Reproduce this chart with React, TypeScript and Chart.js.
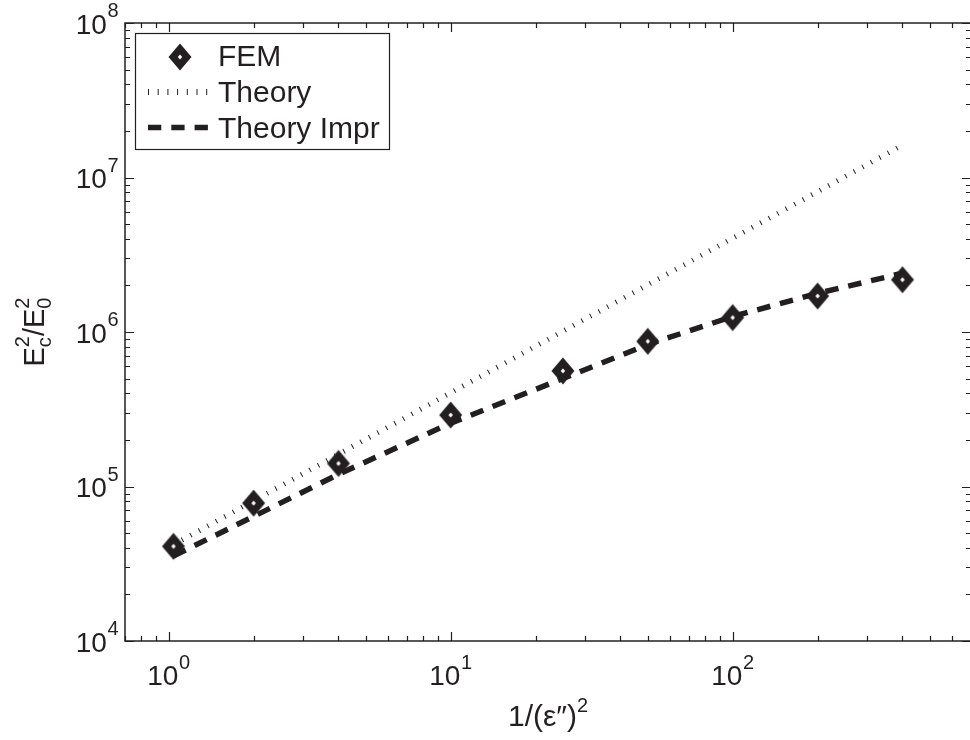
import React, { useEffect, useRef } from "react";
import { Chart, registerables } from "chart.js";

Chart.register(...registerables);

// ---- data ----
const xValues = [1.04, 2, 4, 10, 25, 50, 100, 200, 400];
const femValues = [4.1e4, 7.8e4, 1.41e5, 2.9e5, 5.6e5, 8.7e5, 1.24e6, 1.71e6, 2.18e6];
const theoryX = [1.04, 400];
const theoryValues = [4.2e4, 1.62e7];
const imprValues = [3.55e4, 6.4e4, 1.2e5, 2.57e5, 5.0e5, 8.3e5, 1.26e6, 1.78e6, 2.4e6];

const xMajorTicks = [1, 10, 100];
const xTickExponents = ["0", "1", "2"];
const yMajorTicks = [1e4, 1e5, 1e6, 1e7, 1e8];
const yTickExponents = ["4", "5", "6", "7", "8"];
const legendLabels = ["FEM", "Theory", "Theory Impr"];

const X_MIN = 0.7;
const X_MAX = 700;
const Y_MIN = 1e4;
const Y_MAX = 1e8;

const INK = "#231f20";
const FONT = "'Liberation Sans', Arial, Helvetica, sans-serif";

function makeDiamond(): HTMLCanvasElement {
  const c = document.createElement("canvas");
  c.width = 26;
  c.height = 30;
  const g = c.getContext("2d")!;
  g.fillStyle = INK;
  g.beginPath();
  g.moveTo(13, 1.5);
  g.lineTo(24.5, 15);
  g.lineTo(13, 28.5);
  g.lineTo(1.5, 15);
  g.closePath();
  g.fill();
  g.fillStyle = "#ffffff";
  g.beginPath();
  g.moveTo(13, 12.5);
  g.lineTo(15.2, 15);
  g.lineTo(13, 17.5);
  g.lineTo(10.8, 15);
  g.closePath();
  g.fill();
  return c;
}

function minorTicks(min: number, max: number): number[] {
  const out: number[] = [];
  for (let e = Math.floor(Math.log10(min)); e <= Math.ceil(Math.log10(max)); e++) {
    for (let m = 2; m <= 9; m++) {
      const v = m * Math.pow(10, e);
      if (v >= min * 0.999 && v <= max * 1.001) out.push(v);
    }
  }
  return out;
}

function drawPow(
  ctx: CanvasRenderingContext2D,
  x: number,
  baseline: number,
  exp: string,
  align: "center" | "right"
) {
  ctx.font = `28px ${FONT}`;
  const w1 = ctx.measureText("10").width;
  ctx.font = `20px ${FONT}`;
  const w2 = ctx.measureText(exp).width;
  const total = w1 + w2 + 0.5;
  const x0 = align === "center" ? x - total / 2 : x - total;
  ctx.textAlign = "left";
  ctx.textBaseline = "alphabetic";
  ctx.font = `28px ${FONT}`;
  ctx.fillText("10", x0, baseline);
  ctx.font = `20px ${FONT}`;
  ctx.fillText(exp, x0 + w1 + 0.5, baseline - 16.5);
}

export default function App() {
  const ref = useRef<HTMLCanvasElement | null>(null);

  useEffect(() => {
    const canvas = ref.current;
    if (!canvas) return;
    const diamond = makeDiamond();

    const overlay = {
      id: "matlabAxes",
      afterDatasetsDraw(chart: any) {
        const ctx: CanvasRenderingContext2D = chart.ctx;
        const { left, top, right, bottom } = chart.chartArea;
        const xs = chart.scales.x;
        const ys = chart.scales.y;
        ctx.save();
        ctx.strokeStyle = INK;
        ctx.fillStyle = INK;
        ctx.setLineDash([]);

        // ticks (inside, on all four sides)
        ctx.lineWidth = 1.2;
        ctx.beginPath();
        const xMinor = minorTicks(X_MIN, X_MAX);
        xMinor.forEach((v) => {
          const p = Math.round(xs.getPixelForValue(v)) + 0.5;
          ctx.moveTo(p, bottom);
          ctx.lineTo(p, bottom - 5);
          ctx.moveTo(p, top);
          ctx.lineTo(p, top + 5);
        });
        xMajorTicks.forEach((v) => {
          const p = Math.round(xs.getPixelForValue(v)) + 0.5;
          ctx.moveTo(p, bottom);
          ctx.lineTo(p, bottom - 9);
          ctx.moveTo(p, top);
          ctx.lineTo(p, top + 9);
        });
        const yMinor = minorTicks(Y_MIN, Y_MAX);
        yMinor.forEach((v) => {
          const p = Math.round(ys.getPixelForValue(v)) + 0.5;
          ctx.moveTo(left, p);
          ctx.lineTo(left + 5, p);
          ctx.moveTo(right, p);
          ctx.lineTo(right - 5, p);
        });
        yMajorTicks.forEach((v) => {
          const p = Math.round(ys.getPixelForValue(v)) + 0.5;
          ctx.moveTo(left, p);
          ctx.lineTo(left + 9, p);
          ctx.moveTo(right, p);
          ctx.lineTo(right - 9, p);
        });
        ctx.stroke();

        // axes box
        ctx.lineWidth = 1.5;
        ctx.strokeRect(left, top, right - left, bottom - top);

        // tick labels
        xMajorTicks.forEach((v, i) => {
          drawPow(ctx, xs.getPixelForValue(v), bottom + 44, xTickExponents[i], "center");
        });
        yMajorTicks.forEach((v, i) => {
          drawPow(ctx, left - 6.5, ys.getPixelForValue(v) + 10.5, yTickExponents[i], "right");
        });

        // x title: 1/(ε″)^2
        {
          const main = "1/(\u03B5\u2033)";
          ctx.font = `30px ${FONT}`;
          const w1 = ctx.measureText(main).width;
          ctx.font = `20px ${FONT}`;
          const w2 = ctx.measureText("2").width;
          const cx = (left + right) / 2;
          const x0 = cx - (w1 + w2) / 2;
          const base = bottom + 85;
          ctx.textAlign = "left";
          ctx.font = `30px ${FONT}`;
          ctx.fillText(main, x0, base);
          ctx.font = `20px ${FONT}`;
          ctx.fillText("2", x0 + w1, base - 14);
        }

        // y title: E_c^2 / E_0^2 (rotated)
        {
          ctx.save();
          const cy = (top + bottom) / 2;
          ctx.translate(44, cy);
          ctx.rotate(-Math.PI / 2);
          ctx.textAlign = "left";
          const big = `29px ${FONT}`;
          const small = `20px ${FONT}`;
          ctx.font = big;
          const wE = ctx.measureText("E").width;
          const wS = ctx.measureText("/").width;
          ctx.font = small;
          const w2 = ctx.measureText("2").width;
          const wc = ctx.measureText("c").width;
          const w0 = ctx.measureText("0").width;
          const total = wE + Math.max(w2, wc) + wS + wE + Math.max(w2, w0);
          let x = -total / 2;
          ctx.font = big;
          ctx.fillText("E", x, 0);
          x += wE;
          ctx.font = small;
          ctx.fillText("2", x, -15.5);
          ctx.fillText("c", x, 6.5);
          x += Math.max(w2, wc);
          ctx.font = big;
          ctx.fillText("/", x, 0);
          x += wS;
          ctx.fillText("E", x, 0);
          x += wE;
          ctx.font = small;
          ctx.fillText("2", x, -15.5);
          ctx.fillText("0", x, 6.5);
          ctx.restore();
        }

        // legend
        {
          const bx = 135.5, by = 33.5, bw = 254, bh = 116;
          ctx.fillStyle = "#ffffff";
          ctx.fillRect(bx, by, bw, bh);
          ctx.strokeStyle = INK;
          ctx.lineWidth = 1.2;
          ctx.strokeRect(bx, by, bw, bh);
          ctx.fillStyle = INK;
          // FEM marker
          ctx.drawImage(diamond, 180 - diamond.width / 2, 57 - diamond.height / 2);
          // Theory dotted sample
          ctx.lineCap = "butt";
          ctx.lineWidth = 6;
          ctx.setLineDash([1, 8.7]);
          ctx.beginPath();
          ctx.moveTo(148, 92);
          ctx.lineTo(210, 92);
          ctx.stroke();
          // Theory Impr dashed sample
          ctx.lineWidth = 5.5;
          ctx.setLineDash([13.3, 10]);
          ctx.beginPath();
          ctx.moveTo(148, 127.5);
          ctx.lineTo(211, 127.5);
          ctx.stroke();
          ctx.setLineDash([]);
          ctx.font = `30px ${FONT}`;
          ctx.textAlign = "left";
          ctx.textBaseline = "alphabetic";
          ctx.fillText(legendLabels[0], 218, 66);
          ctx.fillText(legendLabels[1], 218, 102);
          ctx.fillText(legendLabels[2], 218, 138);
        }
        ctx.restore();
      },
    };

    const chart = new Chart(canvas, {
      type: "scatter",
      data: {
        datasets: [
          {
            label: legendLabels[0],
            data: xValues.map((x, i) => ({ x, y: femValues[i] })),
            showLine: false,
            pointStyle: diamond as any,
            pointRadius: 12,
            borderColor: INK,
            backgroundColor: INK,
          },
          {
            label: legendLabels[1],
            data: theoryX.map((x, i) => ({ x, y: theoryValues[i] })),
            showLine: true,
            borderColor: INK,
            borderWidth: 5,
            borderDash: [1, 8.7],
            borderCapStyle: "butt",
            pointRadius: 0,
            fill: false,
          },
          {
            label: legendLabels[2],
            data: xValues.map((x, i) => ({ x, y: imprValues[i] })),
            showLine: true,
            borderColor: INK,
            borderWidth: 5.5,
            borderDash: [13.5, 10],
            borderCapStyle: "butt",
            borderJoinStyle: "miter",
            pointRadius: 0,
            fill: false,
          },
        ],
      },
      options: {
        responsive: false,
        animation: false,
        events: [],
        layout: { padding: { left: 125, top: 23, right: 29, bottom: 99 } },
        plugins: {
          legend: { display: false },
          tooltip: { enabled: false },
        },
        scales: {
          x: { type: "logarithmic", min: X_MIN, max: X_MAX, display: false },
          y: { type: "logarithmic", min: Y_MIN, max: Y_MAX, display: false },
        },
      },
      plugins: [overlay],
    });

    return () => {
      chart.destroy();
    };
  }, []);

  return (
    <div
      style={{
        position: "fixed",
        left: 0,
        top: 0,
        width: 970,
        height: 740,
        overflow: "hidden",
        background: "#ffffff",
      }}
    >
      <canvas ref={ref} width={1000} height={740} style={{ display: "block" }} />
    </div>
  );
}
